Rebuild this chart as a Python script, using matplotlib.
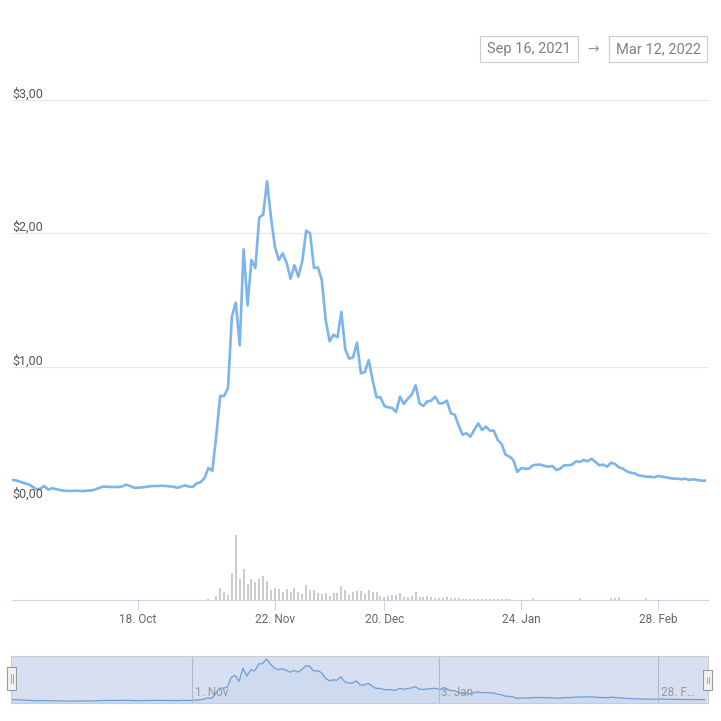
import pandas as pd
import matplotlib
matplotlib.use('Agg')
import matplotlib.pyplot as plt
from matplotlib.patches import Rectangle
from matplotlib.lines import Line2D

plt.rcParams['font.family'] = ['Roboto', 'DejaVu Sans']

# daily data, Sep 16 2021 -> Mar 12 2022
dates = pd.date_range('2021-09-16', '2022-03-12', freq='D')

price = [
    0.15, 0.145, 0.135, 0.125, 0.118, 0.10, 0.08, 0.085, 0.105, 0.078,
    0.088, 0.082, 0.075, 0.07, 0.068, 0.068, 0.07, 0.068, 0.067, 0.07,
    0.072, 0.078, 0.09, 0.10, 0.10, 0.098, 0.097, 0.098, 0.103, 0.115,
    0.105, 0.092, 0.092, 0.095, 0.098, 0.103, 0.105, 0.105, 0.107, 0.105,
    0.102, 0.10, 0.092, 0.10, 0.11, 0.10, 0.098, 0.125, 0.133, 0.165,
    0.24, 0.22, 0.48, 0.78, 0.78, 0.84, 1.375, 1.48, 1.16, 1.88,
    1.46, 1.80, 1.74, 2.12, 2.14, 2.39, 2.12, 1.90, 1.80, 1.85,
    1.78, 1.66, 1.76, 1.675, 1.79, 2.02, 2.0, 1.74, 1.745, 1.65,
    1.35, 1.19, 1.24, 1.22, 1.41, 1.13, 1.06, 1.07, 1.18, 0.95,
    0.96, 1.05, 0.90, 0.77, 0.77, 0.705, 0.695, 0.69, 0.66, 0.775,
    0.72, 0.76, 0.79, 0.86, 0.725, 0.705, 0.74, 0.745, 0.775, 0.725,
    0.725, 0.745, 0.65, 0.64, 0.56, 0.49, 0.50, 0.475, 0.525, 0.575,
    0.525, 0.55, 0.52, 0.52, 0.45, 0.42, 0.34, 0.325, 0.30, 0.21,
    0.24, 0.235, 0.235, 0.26, 0.265, 0.265, 0.255, 0.25, 0.255, 0.225,
    0.235, 0.26, 0.26, 0.265, 0.29, 0.285, 0.30, 0.29, 0.31, 0.285,
    0.26, 0.265, 0.25, 0.28, 0.27, 0.245, 0.235, 0.215, 0.205, 0.20,
    0.185, 0.18, 0.175, 0.175, 0.17, 0.18, 0.175, 0.17, 0.165, 0.16,
    0.16, 0.155, 0.16, 0.15, 0.155, 0.15, 0.145, 0.145,
]

volume = [
    0, 0, 0, 0, 0, 0, 0, 0, 0, 0,
    0, 0, 0, 0, 0, 0, 0, 0, 0, 0,
    0, 0, 0, 0, 0, 0, 0, 0, 0, 0,
    0, 0, 0, 0, 0, 0, 0, 0, 0, 0,
    0, 0, 0, 0, 0, 0, 0, 0, 0, 0,
    1.3, 0, 4, 12.3, 7.7, 5, 26.7, 65, 20.7, 30.7,
    16, 20.7, 18.3, 20.7, 24.3, 19.3, 10, 12, 11, 7.7,
    11, 7.7, 12.3, 7.7, 6, 14.7, 10, 10, 6.7, 6,
    6.7, 4, 7.3, 7.3, 13.7, 10, 5.3, 8, 9, 9,
    6, 10.3, 8, 8, 4, 3.3, 4, 4.7, 4.7, 6.7,
    3.3, 3.3, 4.3, 8.3, 3.3, 3.3, 4, 2.7, 2.3, 2.3,
    2.3, 3.3, 2.3, 2, 2, 1.3, 1.3, 1.3, 1.3, 1.3,
    1.3, 1.3, 1.3, 1.3, 1.3, 1.3, 1.3, 1.3, 0, 0,
    0, 0, 0, 1.7, 0, 0, 0, 0, 0, 0,
    0, 0, 0, 0, 0, 1.7, 0, 0, 0, 0,
    0, 0, 0, 1.7, 2, 2.7, 0, 0, 0, 0,
    0, 0, 1.7, 0, 0, 0, 0, 0, 0, 0,
    0, 0, 0, 0, 0, 0, 0, 0,
]

y_ticks = [0, 1, 2, 3]
y_labels = [r'\$0,00', r'\$1,00', r'\$2,00', r'\$3,00']
tick_dates = pd.to_datetime(['2021-10-18', '2021-11-22', '2021-12-20',
                             '2022-01-24', '2022-02-28'])
tick_labels = ['18. Oct', '22. Nov', '20. Dec', '24. Jan', '28. Feb']
nav_dates = pd.to_datetime(['2021-11-01', '2022-01-03', '2022-02-28'])
nav_labels = ['1. Nov', '3. Jan', '28. F…']
range_from = 'Sep 16, 2021'
range_to = 'Mar 12, 2022'

W = H = 721
fig = plt.figure(figsize=(7.21, 7.21), dpi=100)


def box(x0, y0, x1, y1):
    # pixel box -> [left, bottom, width, height] in figure fraction
    return [x0 / W, 1 - y1 / H, (x1 - x0) / W, (y1 - y0) / H]


def rect(x0, y0, x1, y1, **kw):
    fig.add_artist(Rectangle((x0 / W, 1 - y1 / H), (x1 - x0) / W, (y1 - y0) / H,
                             transform=fig.transFigure, zorder=5, **kw))


xlim = (dates[0] - pd.Timedelta(hours=6), dates[-1] + pd.Timedelta(hours=19))

# price panel
ax = fig.add_axes(box(12, 100, 708, 500))
ax.set_axis_off()
ax.set_xlim(xlim)
ax.set_ylim(0, 3)
for v, lab in zip(y_ticks, y_labels):
    ax.axhline(v, color='#e6e6e6', lw=0.8, zorder=0)
    ax.annotate(lab, xy=(0, v), xycoords=('axes fraction', 'data'),
                xytext=(0, -0.5), textcoords='offset points',
                ha='left', va='bottom', fontsize=9, color='#555555')
ax.plot(dates, price, color='#7cb5ec', lw=1.9, solid_joinstyle='round')

# volume panel
axv = fig.add_axes(box(12, 520, 708, 600))
axv.patch.set_alpha(0)
axv.bar(dates, volume, width=0.5, color='#cccccc')
axv.set_xlim(xlim)
axv.set_ylim(0, 80)
for s in ['top', 'left', 'right']:
    axv.spines[s].set_visible(False)
axv.spines['bottom'].set_color('#ccd6eb')
axv.set_yticks([])
axv.set_xticks(tick_dates)
axv.set_xticklabels(tick_labels)
axv.tick_params(axis='x', length=7.2, width=0.8, color='#ccd6eb',
                labelcolor='#666666', labelsize=8.5, pad=2)

# navigator
axn = fig.add_axes(box(11, 656, 708, 703))
axn.set_facecolor('#d8dff0')
axn.set_xlim(xlim)
axn.set_ylim(-0.04, 2.56)
axn.fill_between(dates, price, -0.04, color='#7cb5ec', alpha=0.1, lw=0)
axn.plot(dates, price, color='#6a9fd8', lw=0.9)
for d, lab in zip(nav_dates, nav_labels):
    axn.axvline(d, color='#b4b9c8', lw=0.8)
    axn.annotate(lab, xy=(d, 0.23), xycoords=('data', 'axes fraction'),
                 xytext=(2, 0), textcoords='offset points',
                 ha='left', va='center', fontsize=8.5, color='#999999')
axn.set_xticks([])
axn.set_yticks([])
for s in axn.spines.values():
    s.set_color('#cccccc')
    s.set_linewidth(0.8)

# navigator handles
for x0, y0, y1 in [(7, 667, 690), (703, 670, 690)]:
    rect(x0, y0, x0 + 9, y1, facecolor='#f2f2f2', edgecolor='#999999', lw=0.8)
    for dx in (3.5, 5.5):
        fig.add_artist(Line2D([(x0 + dx) / W] * 2,
                              [1 - (y0 + 7) / H, 1 - (y1 - 7) / H],
                              transform=fig.transFigure, color='#999999',
                              lw=0.6, zorder=6))

# date range boxes
rect(480, 36, 578, 62, facecolor='white', edgecolor='#cccccc', lw=0.8)
rect(609, 36, 707, 62, facecolor='white', edgecolor='#cccccc', lw=0.8)
fig.text(529 / W, 1 - 49 / H, range_from, ha='center', va='center',
         fontsize=10.5, color='#808080', zorder=7)
fig.text(658 / W, 1 - 49 / H, range_to, ha='center', va='center',
         fontsize=10.5, color='#808080', zorder=7)
fig.text(593 / W, 1 - 49 / H, '→', ha='center', va='center',
         fontsize=10, color='#999999', zorder=7)

fig.savefig('out.png', dpi=100)
